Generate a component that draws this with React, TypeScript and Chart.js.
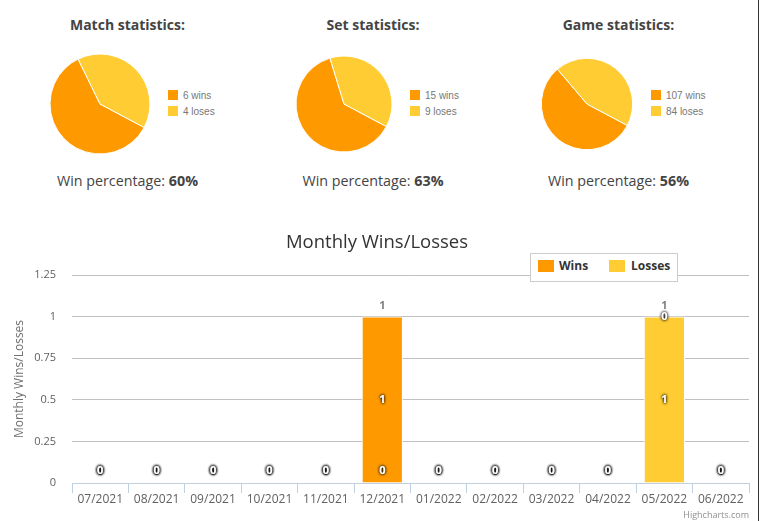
import React, { useEffect, useRef } from 'react';
import { Chart, registerables } from 'chart.js';

Chart.register(...registerables);

// ---- data ----
const pieTitles = ['Match statistics:', 'Set statistics:', 'Game statistics:'];
const pieWins = [6, 15, 107];
const pieLosses = [4, 9, 84];

const months = [
  '07/2021', '08/2021', '09/2021', '10/2021', '11/2021', '12/2021',
  '01/2022', '02/2022', '03/2022', '04/2022', '05/2022', '06/2022',
];
const monthlyWins = [0, 0, 0, 0, 0, 1, 0, 0, 0, 0, 0, 0];
const monthlyLosses = [0, 0, 0, 0, 0, 0, 0, 0, 0, 0, 1, 0];
const yTicks = [0, 0.25, 0.5, 0.75, 1, 1.25];

// ---- styling ----
const WIN_COLOR = '#ff9900';
const LOSS_COLOR = '#ffcc33';
const FONT = '"Open Sans", sans-serif';

// geometry of the three pie blocks
const pieLayout = [
  { cx: 100, cy: 103.5, r: 50, legendX: 168, colX: 127.5 },
  { cx: 343.5, cy: 104.2, r: 48, legendX: 410, colX: 373 },
  { cx: 587, cy: 104, r: 45.7, legendX: 651, colX: 618.5 },
];

type PieProps = { wins: number; losses: number; cx: number; cy: number; r: number };

function StatPie({ wins, losses, cx, cy, r }: PieProps) {
  const ref = useRef<HTMLCanvasElement>(null);
  const size = Math.ceil(r) * 2 + 6;
  useEffect(() => {
    const chart = new Chart(ref.current!, {
      type: 'pie',
      data: {
        labels: ['wins', 'loses'],
        datasets: [
          {
            data: [wins, losses],
            backgroundColor: [WIN_COLOR, LOSS_COLOR],
            borderColor: '#ffffff',
            borderWidth: 1,
            hoverOffset: 0,
          },
        ],
      },
      options: {
        responsive: false,
        animation: false,
        events: [],
        rotation: 118,
        radius: r,
        layout: { padding: 0 },
        plugins: { legend: { display: false }, tooltip: { enabled: false } },
      } as any,
    });
    return () => chart.destroy();
  }, [wins, losses, r]);
  return (
    <canvas
      ref={ref}
      width={size}
      height={size}
      style={{ position: 'absolute', left: cx - size / 2, top: cy - size / 2, width: size, height: size }}
    />
  );
}

// value labels inside the columns and stack totals above them
const columnLabels = {
  id: 'columnLabels',
  afterDatasetsDraw(chart: any) {
    const { ctx, chartArea } = chart;
    const xScale = chart.scales.x;
    const yScale = chart.scales.y;
    const datasets = chart.data.datasets;
    ctx.save();
    ctx.font = `bold 11px ${FONT}`;
    ctx.textAlign = 'center';
    ctx.textBaseline = 'middle';

    // stack totals
    chart.data.labels.forEach((_: string, i: number) => {
      const total = datasets.reduce((s: number, ds: any) => s + ds.data[i], 0);
      const x = xScale.getPixelForValue(i);
      const y = yScale.getPixelForValue(total) - 11;
      ctx.fillStyle = 'gray';
      ctx.fillText(String(total), x, y);
    });

    // segment values, white with a dark glow
    datasets.forEach((ds: any, di: number) => {
      const meta = chart.getDatasetMeta(di);
      meta.data.forEach((bar: any, i: number) => {
        const v = ds.data[i];
        let y = (bar.y + bar.base) / 2;
        y = Math.min(y, chartArea.bottom - 12);
        ctx.shadowColor = 'rgba(0,0,0,1)';
        ctx.shadowBlur = 3;
        ctx.fillStyle = '#ffffff';
        ctx.fillText(String(v), bar.x, y);
        ctx.fillText(String(v), bar.x, y);
        ctx.shadowBlur = 0;
        ctx.shadowColor = 'rgba(0,0,0,0)';
      });
    });
    ctx.restore();
  },
};

function MonthlyChart() {
  const ref = useRef<HTMLCanvasElement>(null);
  useEffect(() => {
    const chart = new Chart(ref.current!, {
      type: 'bar',
      data: {
        labels: months,
        datasets: [
          {
            label: 'Wins',
            data: monthlyWins,
            backgroundColor: WIN_COLOR,
            borderColor: '#ffffff',
            borderWidth: (c: any) => (c.raw ? 1 : 0),
            order: 1,
            barPercentage: 0.73,
            categoryPercentage: 1,
          },
          {
            label: 'Losses',
            data: monthlyLosses,
            backgroundColor: LOSS_COLOR,
            borderColor: '#ffffff',
            borderWidth: (c: any) => (c.raw ? 1 : 0),
            order: 0,
            barPercentage: 0.73,
            categoryPercentage: 1,
          },
        ],
      },
      options: {
        responsive: false,
        animation: false,
        events: [],
        layout: { padding: { top: 50, right: 9, bottom: 0, left: 0 } },
        plugins: { legend: { display: false }, tooltip: { enabled: false }, title: { display: false } },
        scales: {
          x: {
            stacked: true,
            afterFit: (s: any) => {
              s.height = 38;
            },
            grid: {
              display: true,
              drawOnChartArea: false,
              drawTicks: true,
              tickLength: 10,
              color: '#c0d0e0',
              offset: true,
            },
            border: { display: true, color: '#c0d0e0' },
            ticks: {
              color: '#606060',
              font: { family: FONT, size: 12 },
              padding: -1,
              maxRotation: 0,
              autoSkip: false,
            },
          },
          y: {
            stacked: true,
            min: 0,
            max: 1.25,
            afterFit: (s: any) => {
              s.width = 72;
            },
            afterBuildTicks: (s: any) => {
              s.ticks = yTicks.map((v) => ({ value: v }));
            },
            grid: {
              color: (c: any) => (c.tick && c.tick.value === 0 ? 'rgba(0,0,0,0)' : '#c0c0c0'),
              drawTicks: false,
            },
            border: { display: false },
            ticks: {
              color: '#606060',
              font: { family: FONT, size: 11 },
              padding: 16,
              callback: (v: any) => String(v),
            },
            title: {
              display: true,
              text: 'Monthly Wins/Losses',
              color: '#707070',
              font: { family: FONT, size: 12 },
              padding: { top: 12.8, bottom: 0 },
            },
          },
        },
      } as any,
      plugins: [columnLabels],
    });
    return () => chart.destroy();
  }, []);
  return (
    <canvas
      ref={ref}
      width={758}
      height={296}
      style={{ position: 'absolute', left: 0, top: 225, width: 758, height: 296 }}
    />
  );
}

const seriesLegend = [
  { label: 'Wins', color: WIN_COLOR },
  { label: 'Losses', color: LOSS_COLOR },
];

export default function App() {
  return (
    <div
      style={{
        position: 'absolute',
        left: 0,
        top: 0,
        width: 760,
        height: 521,
        background: '#ffffff',
        overflow: 'hidden',
        fontFamily: FONT,
      }}
    >
      {pieTitles.map((title, i) => {
        const L = pieLayout[i];
        const pct = Math.round((pieWins[i] / (pieWins[i] + pieLosses[i])) * 100);
        return (
          <React.Fragment key={title}>
            <div
              style={{
                position: 'absolute',
                left: L.colX - 120,
                width: 240,
                top: 15.3,
                textAlign: 'center',
                font: `bold 14px/20px ${FONT}`,
                color: '#444',
              }}
            >
              {title}
            </div>
            <StatPie wins={pieWins[i]} losses={pieLosses[i]} cx={L.cx} cy={L.cy} r={L.r} />
            {[
              { text: `${pieWins[i]} wins`, color: WIN_COLOR },
              { text: `${pieLosses[i]} loses`, color: LOSS_COLOR },
            ].map((item, k) => (
              <div
                key={item.text}
                style={{ position: 'absolute', left: L.legendX, top: 90 + k * 16, height: 11 }}
              >
                <div style={{ position: 'absolute', left: 0, top: 0, width: 10, height: 10, background: item.color }} />
                <div
                  style={{
                    position: 'absolute',
                    left: 15,
                    top: 0,
                    whiteSpace: 'nowrap',
                    font: '10px/11px "Liberation Sans", Arial, sans-serif',
                    color: '#777',
                  }}
                >
                  {item.text}
                </div>
              </div>
            ))}
            <div
              style={{
                position: 'absolute',
                left: L.colX - 120,
                width: 240,
                top: 170.5,
                textAlign: 'center',
                font: `14.3px/20px ${FONT}`,
                color: '#444',
                whiteSpace: 'nowrap',
              }}
            >
              Win percentage: <b>{pct}%</b>
            </div>
          </React.Fragment>
        );
      })}

      <MonthlyChart />

      <div
        style={{
          position: 'absolute',
          left: 177,
          width: 400,
          top: 228.6,
          textAlign: 'center',
          font: `18.5px/24px ${FONT}`,
          color: '#333',
        }}
      >
        Monthly Wins/Losses
      </div>

      <div
        style={{
          position: 'absolute',
          left: 530,
          top: 253,
          width: 148,
          height: 29,
          boxSizing: 'border-box',
          border: '1px solid #ccc',
          background: '#fff',
        }}
      >
        {seriesLegend.map((s, k) => (
          <React.Fragment key={s.label}>
            <div
              style={{ position: 'absolute', left: 7 + k * 71, top: 6, width: 16, height: 12, background: s.color }}
            />
            <div
              style={{
                position: 'absolute',
                left: 28 + k * 72,
                top: 5,
                font: `bold 12px/14px ${FONT}`,
                color: '#333',
                whiteSpace: 'nowrap',
              }}
            >
              {s.label}
            </div>
          </React.Fragment>
        ))}
      </div>

      <div
        style={{
          position: 'absolute',
          right: 760 - 749,
          top: 508.5,
          font: `9px/12px ${FONT}`,
          color: '#909090',
          whiteSpace: 'nowrap',
        }}
      >
        Highcharts.com
      </div>

      <div style={{ position: 'absolute', left: 758, top: 0, width: 1, height: 521, background: '#333' }} />
    </div>
  );
}
